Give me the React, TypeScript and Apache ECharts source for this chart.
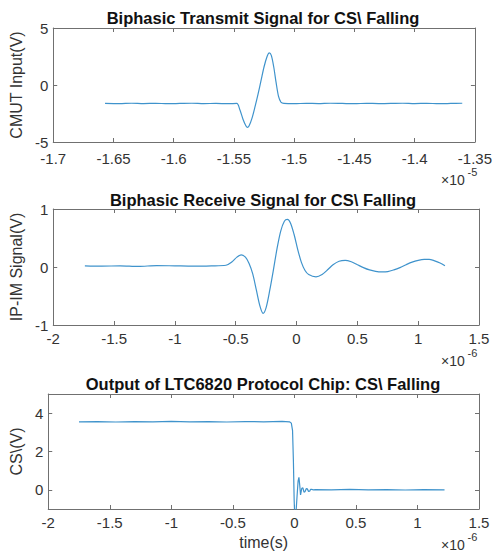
import React, { useEffect, useRef } from "react";
import * as echarts from "echarts";

// ---------- Data ----------
// Plot 1: Biphasic transmit signal (time in units of 1e-5 s)
const txTime = [-1.657, -1.645, -1.635, -1.625, -1.615, -1.605, -1.595, -1.585, -1.575, -1.565, -1.555, -1.5477, -1.545, -1.5425, -1.54, -1.5388, -1.5375, -1.535, -1.5325, -1.53, -1.5275, -1.525, -1.5225, -1.5207, -1.519, -1.517, -1.515, -1.513, -1.511, -1.5085, -1.5, -1.49, -1.48, -1.47, -1.46, -1.45, -1.44, -1.43, -1.42, -1.41, -1.4, -1.39, -1.38, -1.37, -1.3605];
const txVolt = [-1.62, -1.64, -1.6, -1.63, -1.61, -1.64, -1.62, -1.6, -1.63, -1.62, -1.64, -1.62, -2.2, -3.0, -3.6, -3.72, -3.6, -2.9, -1.9, -0.8, 0.4, 1.6, 2.5, 2.82, 2.6, 1.6, 0.2, -1.0, -1.5, -1.62, -1.64, -1.61, -1.63, -1.6, -1.62, -1.64, -1.61, -1.63, -1.62, -1.6, -1.63, -1.61, -1.64, -1.62, -1.6];

// Plot 2: Biphasic receive signal (time in units of 1e-6 s)
const rxTime = [-1.74, -1.6, -1.45, -1.3, -1.15, -1.0, -0.85, -0.7, -0.58, -0.53, -0.49, -0.455, -0.42, -0.39, -0.36, -0.33, -0.3, -0.275, -0.25, -0.22, -0.19, -0.16, -0.13, -0.1, -0.075, -0.05, -0.02, 0.01, 0.04, 0.07, 0.1, 0.16, 0.21, 0.26, 0.3, 0.35, 0.4, 0.45, 0.5, 0.55, 0.6, 0.65, 0.7, 0.75, 0.8, 0.85, 0.9, 0.95, 1.0, 1.05, 1.09, 1.13, 1.18, 1.22];
const rxVolt = [0.02, 0.015, 0.02, 0.01, 0.025, 0.02, 0.015, 0.02, 0.03, 0.09, 0.17, 0.21, 0.17, 0.06, -0.12, -0.4, -0.68, -0.8, -0.7, -0.4, -0.05, 0.32, 0.62, 0.79, 0.82, 0.76, 0.56, 0.3, 0.08, -0.06, -0.13, -0.17, -0.13, -0.04, 0.04, 0.1, 0.115, 0.09, 0.04, -0.01, -0.05, -0.075, -0.085, -0.08, -0.05, -0.01, 0.04, 0.085, 0.115, 0.13, 0.13, 0.11, 0.07, 0.02];

// Plot 3: CS\ output (time in units of 1e-6 s)
const csTime = [-1.75, -1.6, -1.45, -1.3, -1.15, -1.0, -0.85, -0.7, -0.55, -0.4, -0.25, -0.1, -0.04, -0.025, -0.015, -0.008, -0.002, 0.004, 0.012, 0.022, 0.03, 0.037, 0.044, 0.05, 0.06, 0.069, 0.078, 0.086, 0.096, 0.105, 0.115, 0.124, 0.132, 0.14, 0.155, 0.17, 0.3, 0.45, 0.6, 0.75, 0.9, 1.05, 1.22];
const csVolt = [3.55, 3.56, 3.54, 3.56, 3.55, 3.57, 3.55, 3.56, 3.54, 3.56, 3.55, 3.57, 3.55, 3.48, 3.1, 1.5, -0.5, -1.6, -1.3, -0.3, 0.45, 0.65, 0.2, -0.27, 0.08, 0.1, -0.12, -0.1, 0.06, 0.05, -0.08, -0.07, 0.03, 0.02, 0.0, 0.01, 0.0, 0.02, 0.0, 0.01, -0.01, 0.01, 0.0];

// Titles, axis names and tick labels
const titles = [
  "Biphasic Transmit Signal for CS\\ Falling",
  "Biphasic Receive Signal for CS\\ Falling",
  "Output of LTC6820 Protocol Chip: CS\\ Falling",
];
const yNames = ["CMUT Input(V)", "IP-IM Signal(V)", "CS\\(V)"];
const xName3 = "time(s)";
const exponents = ["-5", "-6", "-6"];
const csYTicks = [0, 2, 4];

const FONT = "'Liberation Sans', Arial, Helvetica, sans-serif";
const LINE_COLOR = "#3f93cc";
const AXIS_COLOR = "#707070";
const LABEL_COLOR = "#333333";

const grids = [
  { left: 47, top: 28, width: 432, height: 114 },
  { left: 47, top: 209, width: 432, height: 116 },
  { left: 47, top: 394, width: 432, height: 115 },
];

function fmt(v: number) {
  return String(parseFloat(v.toFixed(3)));
}

function makeX(gi: number, min: number, max: number, interval: number, top: boolean, name?: string, margin = 7) {
  return {
    type: "value",
    gridIndex: gi,
    position: top ? "top" : "bottom",
    min,
    max,
    interval,
    name: name || "",
    nameLocation: "middle",
    nameGap: 25,
    nameTextStyle: { fontFamily: FONT, fontSize: 16, color: LABEL_COLOR },
    axisLine: { show: true, onZero: false, lineStyle: { color: AXIS_COLOR, width: 1 } },
    axisTick: { show: true, inside: true, length: 4, lineStyle: { color: AXIS_COLOR } },
    axisLabel: {
      show: !top,
      margin,
      fontFamily: FONT,
      fontSize: 15,
      lineHeight: 13,
      color: LABEL_COLOR,
      formatter: (v: number) => fmt(v),
      showMinLabel: true,
      showMaxLabel: true,
    },
    splitLine: { show: false },
  };
}

function makeY(gi: number, min: number, max: number, right: boolean, opts: any) {
  return {
    type: "value",
    gridIndex: gi,
    position: right ? "right" : "left",
    min,
    max,
    ...opts,
    name: right ? "" : yNames[gi],
    nameLocation: "middle",
    nameGap: opts.nameGap ?? 21,
    nameTextStyle: { fontFamily: FONT, fontSize: 16, color: LABEL_COLOR },
    axisLine: { show: true, onZero: false, lineStyle: { color: AXIS_COLOR, width: 1 } },
    axisTick: { show: true, inside: true, length: 4, lineStyle: { color: AXIS_COLOR } },
    axisLabel: {
      show: !right,
      margin: 5,
      fontFamily: FONT,
      fontSize: 15,
      lineHeight: 12,
      color: LABEL_COLOR,
      formatter: opts.labelFormatter || ((v: number) => fmt(v)),
    },
    splitLine: { show: false },
  };
}

export default function App() {
  const ref = useRef<HTMLDivElement>(null);

  useEffect(() => {
    if (!ref.current) return;
    const chart = echarts.init(ref.current, undefined, { renderer: "svg" });

    const zip = (xs: number[], ys: number[]) => xs.map((x, i) => [x, ys[i]]);

    const csFormatter = (v: number) => (csYTicks.indexOf(Math.round(v * 1000) / 1000) >= 0 ? String(v) : "");

    const expoTexts: any[] = [];
    const expoY = [180, 361, 545];
    exponents.forEach((e, i) => {
      expoTexts.push({
        type: "text",
        x: 441,
        y: expoY[i],
        style: { text: "×10", font: `14px ${FONT}`, fill: LABEL_COLOR, textVerticalAlign: "middle", verticalAlign: "middle" },
      });
      expoTexts.push({
        type: "text",
        x: 467.5,
        y: expoY[i] - 8,
        style: { text: e, font: `11px ${FONT}`, fill: LABEL_COLOR, textVerticalAlign: "middle", verticalAlign: "middle" },
      });
    });

    const option: any = {
      animation: false,
      backgroundColor: "#ffffff",
      title: titles.map((t, i) => ({
        text: t,
        left: 263,
        top: [9, 191, 375][i],
        textAlign: "center",
        padding: 0,
        textStyle: { fontFamily: FONT, fontSize: 16.5, fontWeight: "bold", color: "#111111" },
      })),
      grid: grids.map((g) => ({ ...g, containLabel: false })),
      xAxis: [
        makeX(0, -1.7, -1.35, 0.05, false, "", 9.5),
        makeX(0, -1.7, -1.35, 0.05, true),
        makeX(1, -2, 1.5, 0.5, false),
        makeX(1, -2, 1.5, 0.5, true),
        makeX(2, -2, 1.5, 0.5, false, xName3),
        makeX(2, -2, 1.5, 0.5, true),
      ],
      yAxis: [
        makeY(0, -5, 5, false, { interval: 5, nameGap: 21 }),
        makeY(0, -5, 5, true, { interval: 5 }),
        makeY(1, -1, 1, false, { interval: 1, nameGap: 20 }),
        makeY(1, -1, 1, true, { interval: 1 }),
        makeY(2, -1, 5, false, { splitNumber: 3, nameGap: 15, labelFormatter: csFormatter }),
        makeY(2, -1, 5, true, { splitNumber: 3 }),
      ],
      series: [
        {
          type: "line",
          xAxisIndex: 0,
          yAxisIndex: 0,
          data: zip(txTime, txVolt),
          showSymbol: false,
          smooth: 0.3,
          clip: true,
          lineStyle: { color: LINE_COLOR, width: 1.2 },
        },
        {
          type: "line",
          xAxisIndex: 2,
          yAxisIndex: 2,
          data: zip(rxTime, rxVolt),
          showSymbol: false,
          smooth: 0.3,
          clip: true,
          lineStyle: { color: LINE_COLOR, width: 1.2 },
        },
        {
          type: "line",
          xAxisIndex: 4,
          yAxisIndex: 4,
          data: zip(csTime, csVolt),
          showSymbol: false,
          clip: true,
          lineStyle: { color: LINE_COLOR, width: 1.2 },
        },
      ],
      graphic: expoTexts,
    };

    chart.setOption(option);
    return () => chart.dispose();
  }, []);

  return (
    <div
      ref={ref}
      style={{ position: "absolute", left: 0, top: 0, width: 495, height: 552, background: "#fff" }}
    />
  );
}
